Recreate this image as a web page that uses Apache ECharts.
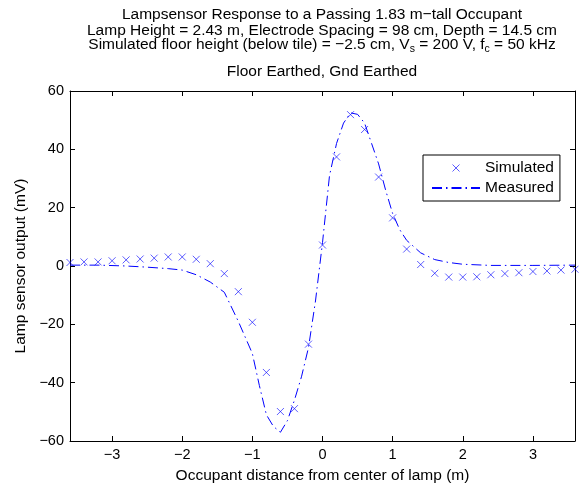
<!DOCTYPE html>
<html>
<head>
<meta charset="utf-8">
<script src="https://cdn.jsdelivr.net/npm/echarts@6/dist/echarts.min.js"></script>
<style>
  html, body { margin: 0; padding: 0; background: #fff; }
  #chart { width: 579px; height: 485px; }
</style>
</head>
<body>
<div id="chart"></div>
<script>
// simulated response, every 0.2 m
const simX = [-3.6, -3.4, -3.2, -3.0, -2.8, -2.6, -2.4, -2.2, -2.0, -1.8, -1.6, -1.4, -1.2, -1.0, -0.8, -0.6, -0.4, -0.2,
  0.0, 0.2, 0.4, 0.6, 0.8, 1.0, 1.2, 1.4, 1.6, 1.8, 2.0, 2.2, 2.4, 2.6, 2.8, 3.0, 3.2, 3.4, 3.6]
const simY = [1.2, 1.4, 1.4, 1.8, 2.1, 2.4, 2.7, 3.1, 3.1, 2.3, 0.8, -2.6, -8.8, -19.3, -36.5, -49.9, -48.9, -26.8,
  7.2, 37.4, 51.9, 46.8, 30.5, 16.5, 5.8, 0.5, -2.5, -3.8, -3.8, -3.7, -3.0, -2.6, -2.3, -1.9, -1.7, -1.4, -1.1]

// measured response
const measX = [-3.6, -3.2, -2.8, -2.5, -2.2, -2.0, -1.8, -1.6, -1.4, -1.2, -1.0, -0.9, -0.8, -0.7, -0.6, -0.5, -0.4, -0.3, -0.2, -0.1,
  0.0, 0.1, 0.2, 0.3, 0.4, 0.5, 0.6, 0.7, 0.8, 0.9, 1.0, 1.1, 1.2, 1.4, 1.6, 1.8, 2.0, 2.4, 3.0, 3.6]
const measY = [0.3, 0.3, 0.0, -0.4, -0.9, -1.4, -3.0, -5.5, -9.0, -19, -30, -41, -51, -55, -57, -53, -46, -38, -28, -12,
  8, 31, 42, 49, 52.5, 52, 49, 42, 35, 26, 18, 12.5, 8.8, 4.5, 2.2, 1.2, 0.6, 0.2, 0.2, 0.3]

const xTicks = [-3, -2, -1, 0, 1, 2, 3]
const titleLines = [
  'Lampsensor Response to a Passing 1.83 m\u2212tall Occupant',
  'Lamp Height = 2.43 m, Electrode Spacing = 98 cm, Depth = 14.5 cm',
  'Simulated floor height (below tile) = \u22122.5 cm, V{sub|s} = 200 V, f{sub|c} = 50 kHz',
  'Floor Earthed, Gnd Earthed'
]

const font = 'Liberation Sans, Arial, Helvetica, sans-serif'
const blue = '#0000ff'
const minus = (v) => String(v).replace('-', '\u2212')

const chart = echarts.init(document.getElementById('chart'))

const titleTops = [7, 22.5, 35.5, 64]
const titles = titleLines.map((t, i) => ({
  text: t,
  left: 322,
  top: titleTops[i],
  padding: 0,
  textAlign: 'center',
  textStyle: {
    fontFamily: font,
    fontSize: 15.5,
    fontWeight: 'normal',
    color: '#000',
    rich: {
      sub: { fontFamily: font, fontSize: 10.5, color: '#000', padding: [8, 0, 0, 0] }
    }
  }
}))

const axisBase = {
  type: 'value',
  axisLine: { show: true, onZero: false, lineStyle: { color: '#000', width: 1 } },
  axisTick: { show: true, inside: true, length: 5, lineStyle: { color: '#000' } },
  splitLine: { show: false }
}

chart.setOption({
  animation: false,
  title: titles,
  grid: { left: 70, right: 4, top: 91, bottom: 44, containLabel: false, outerBoundsMode: 'none' },
  legend: {
    orient: 'vertical',
    left: 423,
    top: 155,
    padding: [5, 6, 5, 8],
    itemGap: 4,
    itemWidth: 48,
    itemHeight: 7,
    itemTextGap: 4,
    borderColor: '#000',
    borderWidth: 1,
    backgroundColor: '#fff',
    textStyle: { fontFamily: font, fontSize: 15.5, color: '#000' },
    data: [
      { name: 'Simulated', itemStyle: { color: 'none', borderColor: blue, borderWidth: 0.8 } },
      { name: 'Measured', itemStyle: { opacity: 0 } }
    ]
  },
  xAxis: [
    {
      ...axisBase,
      min: -3.6,
      max: 3.6,
      name: 'Occupant distance from center of lamp (m)',
      nameLocation: 'middle',
      nameGap: 23,
      nameTextStyle: { fontFamily: font, fontSize: 15.5, color: '#000' },
      axisTick: { ...axisBase.axisTick, customValues: xTicks },
      axisLabel: { customValues: xTicks, fontFamily: font, fontSize: 14.5, color: '#000', margin: 6.5, formatter: minus }
    },
    {
      ...axisBase,
      position: 'top',
      min: -3.6,
      max: 3.6,
      axisTick: { ...axisBase.axisTick, customValues: xTicks },
      axisLabel: { show: false }
    }
  ],
  yAxis: [
    {
      ...axisBase,
      min: -60,
      max: 60,
      interval: 20,
      name: 'Lamp sensor output (mV)',
      nameLocation: 'middle',
      nameGap: 38,
      nameTextStyle: { fontFamily: font, fontSize: 15.5, color: '#000' },
      axisLabel: { fontFamily: font, fontSize: 14.5, color: '#000', margin: 6, formatter: minus }
    },
    {
      ...axisBase,
      position: 'right',
      min: -60,
      max: 60,
      interval: 20,
      axisLabel: { show: false }
    }
  ],
  series: [
    {
      name: 'Simulated',
      type: 'scatter',
      symbol: 'path://M0,0L10,10M10,0L0,10',
      symbolSize: 7,
      itemStyle: { color: 'none', borderColor: blue, borderWidth: 0.8 },
      data: simX.map((x, i) => [x, simY[i]]),
      z: 3
    },
    {
      name: 'Measured',
      type: 'line',
      symbol: 'none',
      itemStyle: { color: blue },
      lineStyle: { color: blue, width: 1, type: [10, 4, 1.5, 4] },
      data: measX.map((x, i) => [x, measY[i]])
    }
  ]
})
</script>
</body>
</html>
